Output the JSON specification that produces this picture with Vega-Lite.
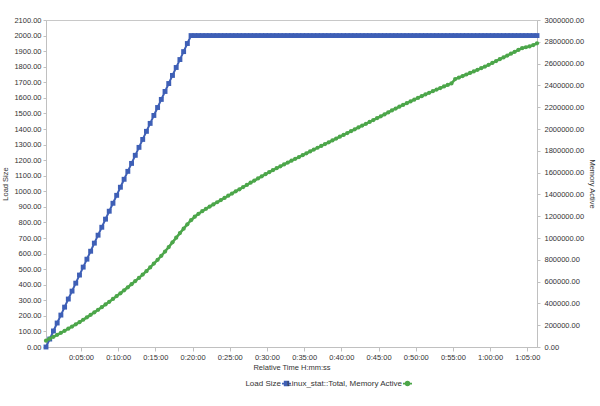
{
  "$schema": "https://vega.github.io/schema/vega-lite/v6.json",
  "width": 491,
  "height": 327,
  "autosize": {"type": "none"},
  "padding": {"left": 46, "top": 20, "right": 63, "bottom": 59},
  "background": "white",
  "config": {
    "font": "Liberation Sans",
    "view": {"stroke": "#c8c8c8", "strokeWidth": 1},
    "axis": {
      "labelFontSize": 7.5, "labelColor": "#333333", "titleFontSize": 7.5,
      "titleFontWeight": "normal", "titleColor": "#333333",
      "domainColor": "#c0c0c0", "tickColor": "#c0c0c0", "grid": false,
      "tickSize": 3, "labelPadding": 2
    }
  },
  "datasets": {
    "main": [
      {"t":0.3,"load":0,"mem":58000},{"t":0.8,"load":51,"mem":76000},{"t":1.3,"load":103,"mem":94000},{"t":1.8,"load":154,"mem":112000},
      {"t":2.3,"load":205,"mem":130000},{"t":2.8,"load":256,"mem":149000},{"t":3.3,"load":308,"mem":168000},{"t":3.8,"load":359,"mem":188000},
      {"t":4.3,"load":410,"mem":208000},{"t":4.8,"load":462,"mem":228000},{"t":5.3,"load":513,"mem":250000},{"t":5.8,"load":564,"mem":272000},
      {"t":6.3,"load":615,"mem":295000},{"t":6.8,"load":667,"mem":318000},{"t":7.3,"load":718,"mem":341000},{"t":7.8,"load":769,"mem":365000},
      {"t":8.3,"load":821,"mem":390000},{"t":8.8,"load":872,"mem":415000},{"t":9.3,"load":923,"mem":441000},{"t":9.8,"load":974,"mem":467000},
      {"t":10.3,"load":1026,"mem":493000},{"t":10.8,"load":1077,"mem":520000},{"t":11.3,"load":1128,"mem":548000},{"t":11.8,"load":1179,"mem":576000},
      {"t":12.3,"load":1231,"mem":605000},{"t":12.8,"load":1282,"mem":634000},{"t":13.3,"load":1333,"mem":664000},{"t":13.8,"load":1385,"mem":696000},
      {"t":14.3,"load":1436,"mem":730000},{"t":14.8,"load":1487,"mem":765000},{"t":15.3,"load":1538,"mem":800000},{"t":15.8,"load":1590,"mem":837000},
      {"t":16.3,"load":1641,"mem":876000},{"t":16.8,"load":1692,"mem":917000},{"t":17.3,"load":1744,"mem":960000},{"t":17.8,"load":1795,"mem":1003000},
      {"t":18.3,"load":1846,"mem":1045000},{"t":18.8,"load":1897,"mem":1086000},{"t":19.3,"load":1949,"mem":1126000},{"t":19.8,"load":2000,"mem":1163000},
      {"t":20.3,"load":2000,"mem":1195000},{"t":20.8,"load":2000,"mem":1222000},{"t":21.3,"load":2000,"mem":1246000},{"t":21.8,"load":2000,"mem":1268000},
      {"t":22.3,"load":2000,"mem":1288000},{"t":22.8,"load":2000,"mem":1308000},{"t":23.3,"load":2000,"mem":1328000},{"t":23.8,"load":2000,"mem":1348000},
      {"t":24.3,"load":2000,"mem":1368000},{"t":24.8,"load":2000,"mem":1388000},{"t":25.3,"load":2000,"mem":1408000},{"t":25.8,"load":2000,"mem":1428000},
      {"t":26.3,"load":2000,"mem":1447000},{"t":26.8,"load":2000,"mem":1467000},{"t":27.3,"load":2000,"mem":1487000},{"t":27.8,"load":2000,"mem":1507000},
      {"t":28.3,"load":2000,"mem":1527000},{"t":28.8,"load":2000,"mem":1546000},{"t":29.3,"load":2000,"mem":1566000},{"t":29.8,"load":2000,"mem":1585000},
      {"t":30.3,"load":2000,"mem":1604000},{"t":30.8,"load":2000,"mem":1622000},{"t":31.3,"load":2000,"mem":1640000},{"t":31.8,"load":2000,"mem":1658000},
      {"t":32.3,"load":2000,"mem":1675000},{"t":32.8,"load":2000,"mem":1692000},{"t":33.3,"load":2000,"mem":1709000},{"t":33.8,"load":2000,"mem":1726000},
      {"t":34.3,"load":2000,"mem":1743000},{"t":34.8,"load":2000,"mem":1760000},{"t":35.3,"load":2000,"mem":1777000},{"t":35.8,"load":2000,"mem":1794000},
      {"t":36.3,"load":2000,"mem":1811000},{"t":36.8,"load":2000,"mem":1828000},{"t":37.3,"load":2000,"mem":1845000},{"t":37.8,"load":2000,"mem":1862000},
      {"t":38.3,"load":2000,"mem":1878000},{"t":38.8,"load":2000,"mem":1895000},{"t":39.3,"load":2000,"mem":1912000},{"t":39.8,"load":2000,"mem":1929000},
      {"t":40.3,"load":2000,"mem":1946000},{"t":40.8,"load":2000,"mem":1963000},{"t":41.3,"load":2000,"mem":1980000},{"t":41.8,"load":2000,"mem":1997000},
      {"t":42.3,"load":2000,"mem":2014000},{"t":42.8,"load":2000,"mem":2031000},{"t":43.3,"load":2000,"mem":2048000},{"t":43.8,"load":2000,"mem":2065000},
      {"t":44.3,"load":2000,"mem":2082000},{"t":44.8,"load":2000,"mem":2099000},{"t":45.3,"load":2000,"mem":2116000},{"t":45.8,"load":2000,"mem":2134000},
      {"t":46.3,"load":2000,"mem":2152000},{"t":46.8,"load":2000,"mem":2170000},{"t":47.3,"load":2000,"mem":2188000},{"t":47.8,"load":2000,"mem":2205000},
      {"t":48.3,"load":2000,"mem":2221000},{"t":48.8,"load":2000,"mem":2237000},{"t":49.3,"load":2000,"mem":2253000},{"t":49.8,"load":2000,"mem":2269000},
      {"t":50.3,"load":2000,"mem":2285000},{"t":50.8,"load":2000,"mem":2301000},{"t":51.3,"load":2000,"mem":2317000},{"t":51.8,"load":2000,"mem":2332000},
      {"t":52.3,"load":2000,"mem":2347000},{"t":52.8,"load":2000,"mem":2362000},{"t":53.3,"load":2000,"mem":2376000},{"t":53.8,"load":2000,"mem":2390000},
      {"t":54.3,"load":2000,"mem":2404000},{"t":54.8,"load":2000,"mem":2418000},{"t":55.3,"load":2000,"mem":2458000},{"t":55.8,"load":2000,"mem":2472000},
      {"t":56.3,"load":2000,"mem":2486000},{"t":56.8,"load":2000,"mem":2500000},{"t":57.3,"load":2000,"mem":2514000},{"t":57.8,"load":2000,"mem":2528000},
      {"t":58.3,"load":2000,"mem":2543000},{"t":58.8,"load":2000,"mem":2558000},{"t":59.3,"load":2000,"mem":2573000},{"t":59.8,"load":2000,"mem":2589000},
      {"t":60.3,"load":2000,"mem":2606000},{"t":60.8,"load":2000,"mem":2623000},{"t":61.3,"load":2000,"mem":2640000},{"t":61.8,"load":2000,"mem":2657000},
      {"t":62.3,"load":2000,"mem":2674000},{"t":62.8,"load":2000,"mem":2691000},{"t":63.3,"load":2000,"mem":2708000},{"t":63.8,"load":2000,"mem":2725000},
      {"t":64.3,"load":2000,"mem":2741000},{"t":64.8,"load":2000,"mem":2750000},{"t":65.3,"load":2000,"mem":2758000},{"t":65.8,"load":2000,"mem":2770000},
      {"t":66.3,"load":2000,"mem":2786000}
    ],
    "legend": [
      {"series": "Load Size"},
      {"series": "Linux_stat::Total, Memory Active"}
    ]
  },
  "layer": [
    {
      "data": {"name": "main"},
      "encoding": {
        "x": {
          "field": "t", "type": "quantitative",
          "scale": {"domain": [0.3, 66.3], "nice": false, "zero": false},
          "axis": {
            "title": "Relative Time H:mm:ss",
            "values": [5,10,15,20,25,30,35,40,45,50,55,60,65],
            "labelExpr": "floor(datum.value/60) + ':' + format(datum.value % 60, '02d') + ':00'",
            "tickSize": 4, "titlePadding": 3, "labelPadding": 2
          }
        },
        "y": {
          "field": "load", "type": "quantitative",
          "scale": {"domain": [0, 2100], "nice": false},
          "axis": {
            "title": "Load Size", "orient": "left",
            "values": [0,100,200,300,400,500,600,700,800,900,1000,1100,1200,1300,1400,1500,1600,1700,1800,1900,2000,2100],
            "format": ".2f", "titlePadding": 4
          }
        }
      },
      "layer": [
        {"mark": {"type": "line", "color": "#3e5fb6", "strokeWidth": 2}},
        {"mark": {"type": "point", "shape": "square", "filled": true, "size": 24, "color": "#3e5fb6", "opacity": 1}}
      ]
    },
    {
      "data": {"name": "main"},
      "encoding": {
        "x": {"field": "t", "type": "quantitative"},
        "y": {
          "field": "mem", "type": "quantitative",
          "scale": {"domain": [0, 3000000], "nice": false},
          "axis": {
            "title": "Memory Active", "orient": "right",
            "values": [0,200000,400000,600000,800000,1000000,1200000,1400000,1600000,1800000,2000000,2200000,2400000,2600000,2800000,3000000],
            "format": ".2f", "labelPadding": 4, "titlePadding": 4
          }
        }
      },
      "layer": [
        {"mark": {"type": "line", "color": "#4ca64a", "strokeWidth": 2.5}},
        {"mark": {"type": "point", "shape": "circle", "filled": true, "size": 18, "color": "#4ca64a", "opacity": 1}}
      ]
    },
    {
      "data": {"name": "legend"},
      "mark": {"type": "point", "filled": false, "opacity": 0, "strokeWidth": 1.8},
      "encoding": {
        "color": {
          "field": "series", "type": "nominal",
          "scale": {"domain": ["Load Size", "Linux_stat::Total, Memory Active"], "range": ["#3e5fb6", "#4ca64a"]},
          "legend": {
            "title": null, "orient": "none", "legendX": 235, "legendY": 358,
            "direction": "horizontal",
            "labelAlign": "right", "labelOffset": -11, "symbolSize": 81,
            "symbolOpacity": 1, "symbolStrokeWidth": 1.8, "labelFontSize": 8,
            "labelColor": "#333333", "columnPadding": -9
          }
        },
        "shape": {
          "field": "series", "type": "nominal",
          "scale": {"domain": ["Load Size", "Linux_stat::Total, Memory Active"],
            "range": ["M-1,0H1M-0.4,-0.4H0.4V0.4H-0.4Z", "M-1,0H1M-0.4,0A0.4,0.4 0 1,0 0.4,0A0.4,0.4 0 1,0 -0.4,0Z"]}
        }
      }
    }
  ],
  "resolve": {"scale": {"y": "independent"}}
}
